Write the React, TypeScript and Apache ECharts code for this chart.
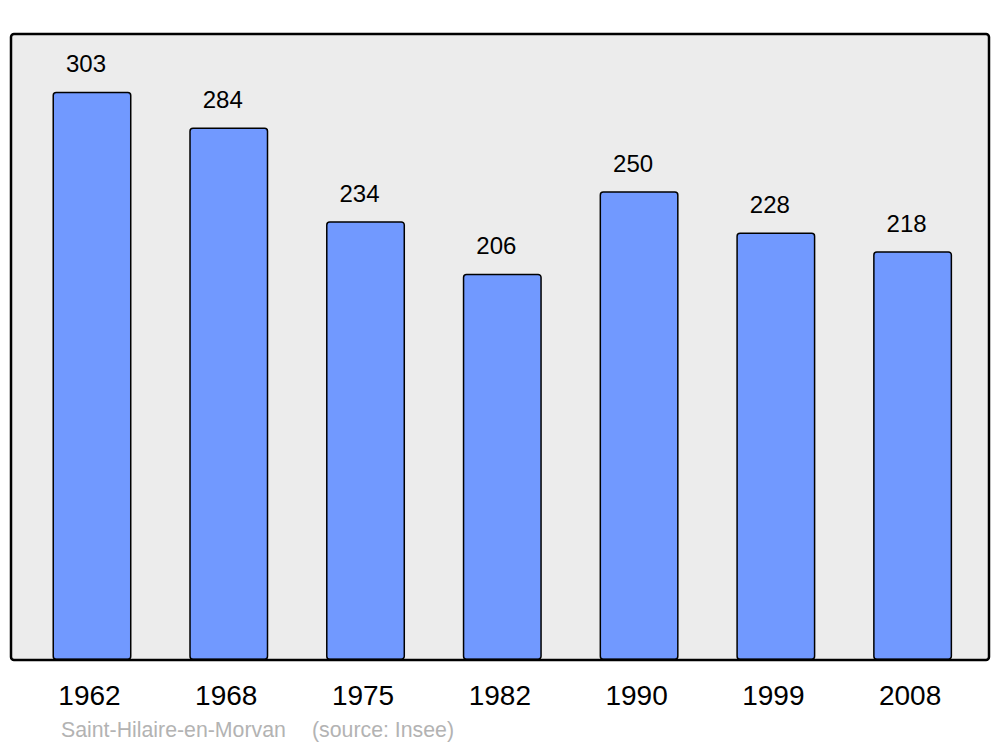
import React, { useEffect, useRef } from "react";
import * as echarts from "echarts";

const years = ["1962", "1968", "1975", "1982", "1990", "1999", "2008"];
const population = [303, 284, 234, 206, 250, 228, 218];
const placeName = "Saint-Hilaire-en-Morvan";
const sourceText = "(source: Insee)";

export default function App() {
  const ref = useRef<HTMLDivElement>(null);
  useEffect(() => {
    if (!ref.current) return;
    const chart = echarts.init(ref.current, undefined, { renderer: "svg" });
    chart.setOption({
      animation: false,
      backgroundColor: "#ffffff",
      grid: { left: 23.6, right: 19, top: 34, bottom: 87, containLabel: false },
      xAxis: {
        type: "category",
        data: years,
        axisLine: { show: false },
        axisTick: { show: false },
        axisLabel: {
          color: "#000",
          fontSize: 28,
          fontFamily: "Liberation Sans, Arial, sans-serif",
          margin: 21,
          padding: [0, 5, 0, 0],
        },
      },
      yAxis: {
        type: "value",
        min: 0,
        max: 333.8,
        show: false,
        splitLine: { show: false },
      },
      graphic: [
        {
          type: "rect",
          z: -10,
          shape: { x: 11, y: 34, width: 978, height: 626, r: 3 },
          style: { fill: "#ececec", stroke: "none" },
          silent: true,
        },
        {
          type: "rect",
          z: 100,
          shape: { x: 11, y: 34, width: 978, height: 626, r: 3 },
          style: { fill: "none", stroke: "#000", lineWidth: 2.5 },
          silent: true,
        },
        {
          type: "text",
          x: 61,
          y: 730,
          style: {
            text: placeName,
            fill: "#b3b3b3",
            fontSize: 21.3,
            fontFamily: "Liberation Sans, Arial, sans-serif",
            verticalAlign: "middle",
          },
        },
        {
          type: "text",
          x: 312,
          y: 730,
          style: {
            text: sourceText,
            fill: "#b3b3b3",
            fontSize: 21.3,
            fontFamily: "Liberation Sans, Arial, sans-serif",
            verticalAlign: "middle",
          },
        },
      ],
      series: [
        {
          type: "bar",
          data: population,
          barWidth: 79,
          itemStyle: {
            color: "#7199ff",
            borderColor: "#000",
            borderWidth: 1.5,
            borderRadius: 3,
          },
          label: {
            show: true,
            position: "top",
            distance: 16,
            offset: [-6, 0],
            color: "#000",
            fontSize: 24,
            fontFamily: "Liberation Sans, Arial, sans-serif",
          },
        },
      ],
    });
    return () => chart.dispose();
  }, []);
  return <div ref={ref} style={{ width: 1000, height: 747, position: "absolute", left: 0, top: 0 }} />;
}
